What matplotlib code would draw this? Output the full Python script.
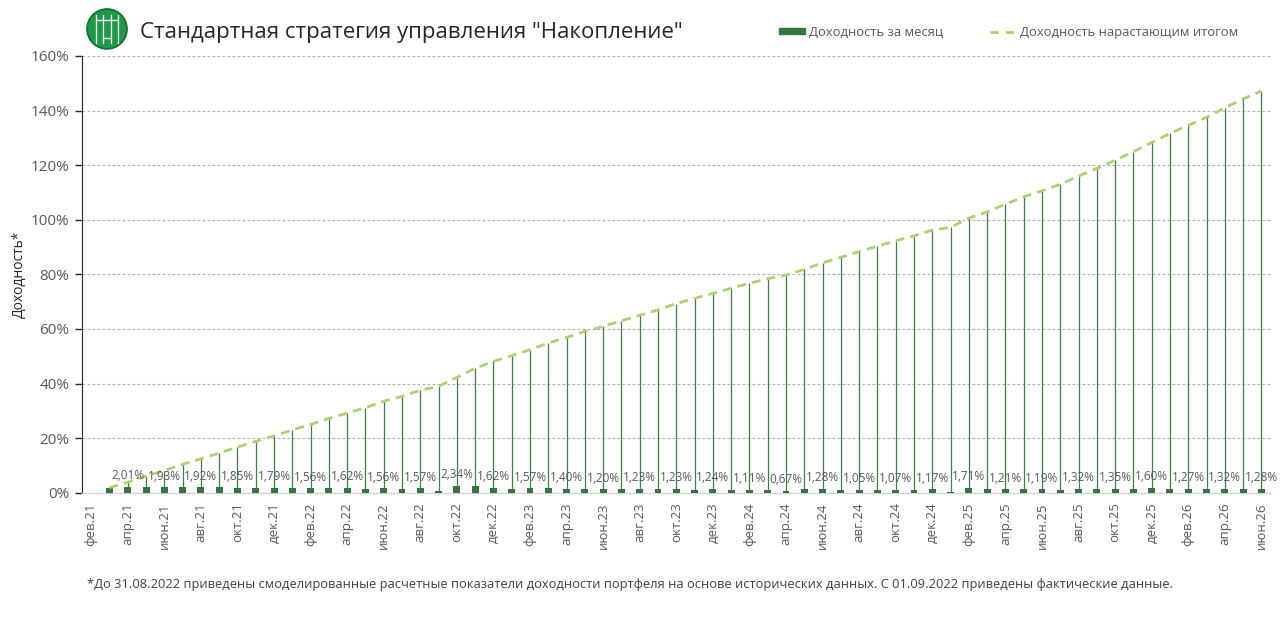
import numpy as np
import matplotlib
matplotlib.use('Agg')
import matplotlib.pyplot as plt
from matplotlib.patches import Circle, Rectangle
from matplotlib.lines import Line2D

plt.rcParams['font.family'] = ['Open Sans', 'DejaVu Sans']

# %% data: фев.21 .. июн.26, first month empty
monthly = [np.nan,
           1.80, 2.01, 2.15, 1.93, 2.10, 1.92, 1.90, 1.85, 1.80, 1.79,
           1.80, 1.56, 1.75, 1.62, 1.50, 1.56, 1.35, 1.57, 0.60, 2.34, 2.30, 1.62,
           1.40, 1.57, 1.55, 1.40, 1.40, 1.20, 1.30, 1.23, 1.20, 1.23, 1.15, 1.24,
           1.10, 1.11, 1.00, 0.67, 1.20, 1.28, 1.10, 1.05, 1.10, 1.07, 0.95, 1.17,
           0.30, 1.71, 1.20, 1.21, 1.30, 1.19, 1.15, 1.32, 1.30, 1.35, 1.40, 1.60,
           1.45, 1.27, 1.25, 1.32, 1.35, 1.28]
cumulative = [np.nan,
              1.8, 3.85, 6.1, 8.1, 10.4, 12.4, 14.5, 16.7, 18.8, 20.8,
              23.0, 25.0, 27.2, 29.2, 31.1, 33.5, 35.3, 37.5, 39.0, 42.2, 45.6, 48.1,
              50.2, 52.4, 54.8, 56.9, 59.1, 60.9, 63.0, 65.0, 67.0, 69.3, 71.2, 73.0,
              74.9, 76.7, 78.4, 79.7, 81.8, 84.2, 86.2, 88.3, 90.3, 92.3, 94.1, 96.2,
              97.2, 100.6, 102.9, 105.7, 108.4, 110.6, 113.0, 116.0, 118.8, 121.8, 124.9, 128.3,
              131.6, 134.6, 137.5, 141.0, 144.3, 147.1]
tick_labels = ['фев.21', 'апр.21', 'июн.21', 'авг.21', 'окт.21', 'дек.21',
               'фев.22', 'апр.22', 'июн.22', 'авг.22', 'окт.22', 'дек.22',
               'фев.23', 'апр.23', 'июн.23', 'авг.23', 'окт.23', 'дек.23',
               'фев.24', 'апр.24', 'июн.24', 'авг.24', 'окт.24', 'дек.24',
               'фев.25', 'апр.25', 'июн.25', 'авг.25', 'окт.25', 'дек.25',
               'фев.26', 'апр.26', 'июн.26']

bar_color = '#33773f'
line_color = '#add16f'
drop_color = '#3f7d4c'
grey = '#595959'

x = np.arange(len(monthly))
monthly = np.array(monthly)
cumulative = np.array(cumulative)

# %%
fig = plt.figure(figsize=(12.8, 6.31), dpi=100)
ax = fig.add_axes([0.0641, 0.2192, 0.9285, 0.6921])

ax.vlines(x, 0, cumulative, color=drop_color, lw=0.9, zorder=2)
ax.bar(x, monthly, width=0.38, color=bar_color, zorder=3)
ax.plot(x, cumulative, color=line_color, lw=2, dashes=(3.2, 2.2), zorder=4)

for i in range(2, len(x), 2):
    ax.annotate(f'{monthly[i]:.2f}%'.replace('.', ','), (x[i], monthly[i]),
                xytext=(0, 3.5), textcoords='offset points', ha='center', va='bottom',
                fontsize=8.5, color=grey, zorder=5)

ax.set_xlim(-0.5, len(x) - 0.5)
ax.set_ylim(0, 160)
ax.set_yticks(np.arange(0, 161, 20))
ax.set_yticklabels([f'{v}%' for v in range(0, 161, 20)])
ax.set_xticks(x[::2])
ax.set_xticklabels(tick_labels, rotation=90)
ax.tick_params(axis='x', length=0, pad=7, labelsize=9.5, labelcolor=grey)
ax.tick_params(axis='y', length=5, width=1, color='#262626', labelsize=11, labelcolor=grey, pad=4)
ax.grid(axis='y', color='#b0b0b0', ls=(0, (2.5, 2)), lw=0.8)
ax.set_axisbelow(True)
for s in ['top', 'right']:
    ax.spines[s].set_visible(False)
ax.spines['left'].set_color('#262626')
ax.spines['bottom'].set_color('#d0d0d0')
ax.set_ylabel('Доходность*', fontsize=10, color='#262626', labelpad=3)

# title and logo
fig.text(0.1094, 0.949, 'Стандартная стратегия управления "Накопление"',
         fontsize=16, color='#262626', va='center', ha='left')
lax = fig.add_axes([0.0672, 0.9208, 0.0328, 0.0666])
lax.set_aspect('equal')
lax.axis('off')
lax.set_xlim(-1.05, 1.05)
lax.set_ylim(-1.05, 1.05)
lax.add_patch(Circle((0, 0), 1, color='#1e9a48', ec='#0f6e30', lw=1.2))
for xx in [-0.55, -0.2, 0.2, 0.55]:
    lax.plot([xx, xx], [-0.7, 0.7], color='white', lw=0.9)
lax.plot([-0.55, 0.55], [0.45, 0.45], color='white', lw=0.9)
lax.plot([-0.2, 0.2], [-0.45, -0.45], color='white', lw=0.9)

# legend
handles = [Rectangle((0, 0), 1, 1, color=bar_color),
           Line2D([], [], color=line_color, lw=2, dashes=(3, 2.5))]
leg = fig.legend(handles, ['Доходность за месяц', 'Доходность нарастающим итогом'],
                 loc='center right', bbox_to_anchor=(0.9766, 0.949), ncol=2, frameon=False,
                 fontsize=9.4, handlelength=2.0, handleheight=0.35, columnspacing=3.6,
                 handletextpad=0.3, labelcolor=grey)

fig.text(0.068, 0.074, '*До 31.08.2022 приведены смоделированные расчетные показатели доходности портфеля '
         'на основе исторических данных. С 01.09.2022 приведены фактические данные.',
         fontsize=9.3, color='#404040', va='center', ha='left')

fig.savefig('out.png', dpi=100)
